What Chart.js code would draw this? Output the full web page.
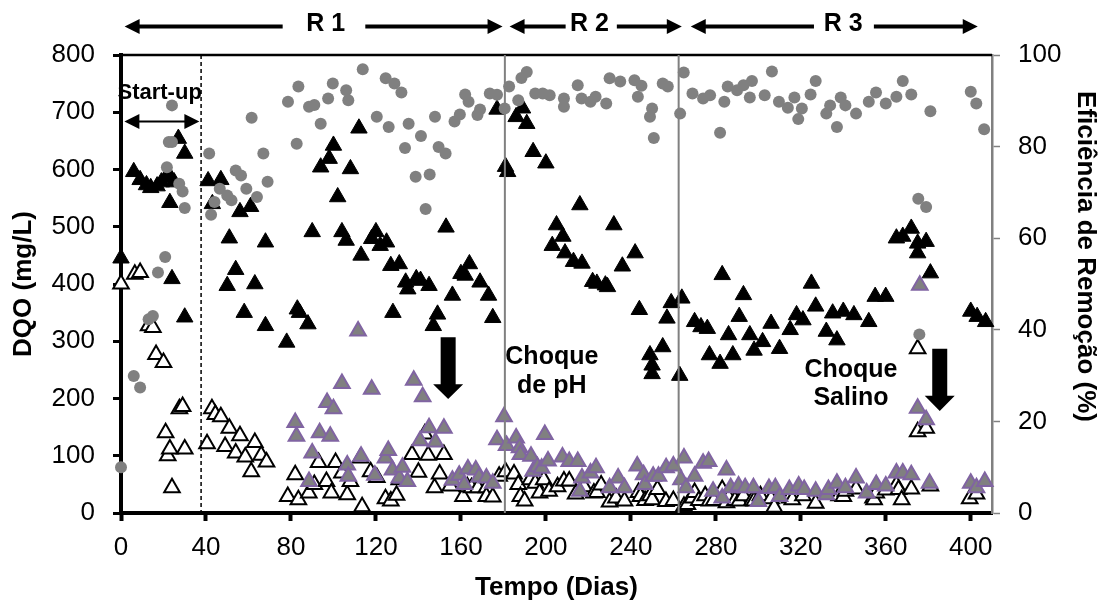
<!DOCTYPE html>
<html lang="pt">
<head>
<meta charset="UTF-8">
<title>DQO e Eficiência de Remoção</title>
<script src="https://cdn.jsdelivr.net/npm/chart.js"></script>
<style>
  html, body { margin: 0; padding: 0; background: #fff; overflow: hidden; }
  #wrap { width: 1101px; height: 600px; position: relative; }
</style>
</head>
<body>
<div id="wrap"><canvas id="grafico"></canvas></div>
<script>
// [dia, DQO mg/L] - afluente
const dqoAfluente = [
  [0,445],[6,596],[9,582],[12,573],[14,568],[17,571],[19,578],[21,585],[23,588],[25,578],[23,542],[24,409],[27,654],[30,628],[30,342],
  [41,580],[43,540],[47,582],[50,397],[51,480],[54,425],[56,526],[58,350],[61,535],[63,400],[68,473],[68,327],[78,298],[83,356],[84,350],[88,330],
  [90,491],[94,604],[98,619],[100,642],[102,552],[104,491],[106,476],[108,601],[112,672],[113,450],[118,479],[120,491],[122,467],[125,473],
  [127,432],[128,350],[131,435],[134,403],[135,391],[139,409],[141,406],[145,397],[147,327],[149,347],[153,499],[156,380],[160,418],[162,415],
  [164,435],[169,403],[173,380],[175,341],[177,705],
  [181,605],[182,596],[186,692],[189,707],[191,680],[194,631],[200,611],[203,467],[205,503],[208,483],[209,454],[213,439],[216,538],[217,436],
  [222,404],[224,401],[228,398],[229,395],[232,503],[236,431],[242,454],
  [244,355],[249,276],[250,258],[250,243],[255,290],[257,340],[259,367],[263,240],[264,375],
  [270,334],[273,325],[276,322],[277,276],[282,261],[283,416],[286,311],[288,276],[291,343],[293,381],[296,311],[298,284],[302,299],[306,331],
  [310,287],[315,320],[318,346],[321,337],[325,401],[327,361],[332,317],[335,349],[337,302],[340,352],[345,346],[352,334],[355,378],[360,378],
  [365,480],[368,483],[372,497],[375,471],[375,454],[379,474],[381,419],
  [400,352],[403,343],[407,334]
];

// [dia, DQO mg/L] - efluente
const dqoEfluente = [
  [0,400],[6.5,417],[9,420],[13,327],[15,324],[16.5,277],[20,263],[21,140],[22,100],[23,112],[24,44],[27.5,182],[29,186],[30,112],
  [40.5,121],[42.8,182],[44.4,172],[47,168],[49,116],[51,148],[54,105],[56,135],[58.5,98],[61.3,72],[63,123],[66,101],[68.5,89],
  [78.5,29],[82,67],[83.5,23],[88.4,35],[91,50],[93,88],[96.7,55],[99,35],[101,88],[104,70],[106.5,32],[108,55],[112.7,96],[113.5,11],
  [117.5,72],[120.4,62],[124.5,25],[127,21],[129.7,31],[131,58],[137,102],[140,71],[143,138],[144.6,101],[147.6,44],[150,68],[152,102],
  [155,47],[161,29],[163,46],[165,44],[168,44],[172,44],[172,29],[175,28],[178,64],
  [181,72],[185,68],[187,50],[188,29],[190,21],[192.6,58],[195,52],[197,35],[199,58],[201.5,38],
  [205.5,46],[208.5,56],[211,56],[214,33],[218,46],[222.6,35],[224,36],[226,49],[230,19],[233,26],[237,21],[243.6,36],[244.5,29],[246.7,22],
  [249,30],[250,23],[252.5,41],[256.5,20],[260,22],[265,12],[266.6,15],[269,26],[270,36],[272,22],[275,30],[277,21],[279,22],[283,41],
  [285,18],[286,27],[289,22],[291,21],[293,30],[297,22],[298,21],[301,30],[306,25],[307.5,10],
  [314.7,26],[316,23],[321,30],[327,17],[338,30],[340,29],[341,38],[346,42],[354,26],[354.5,23],[355.5,35],[360,40],[365,49],[366,41],
  [367.5,23],[372,42],[375,142],[375,287],[379,148],[381,47],[399.5,25],[402.7,33]
];

// [dia, DQO mg/L] - efluente (segunda série)
const dqoEfluente2 = [
  [82,158],[82.6,134],[88.5,55],[90,105],[93.5,140],[97,193],[98.5,134],[100,182],[104,226],[106.5,84],[107,64],[111.6,318],[113,99],
  [118,216],[119.5,66],[124.5,96],[125.8,109],[127.8,75],[131,61],[132.5,80],[134.8,55],[137.8,232],[140.8,126],[142,203],[145,149],
  [148,124],[152,148],[156,57],[159.2,66],[161.6,50],[163.3,77],[167,75],[168.5,63],[172,61],[175,52],[177,128],[180.3,168],[181.5,118],
  [186,131],[187.6,114],[188,102],[193,99],[194,73],[196,81],[198,78],[199.5,137],[201,91],
  [207.8,98],[211,90],[215,90],[216,38],[217,61],[221,70],[223.6,79],[230,44],[234,61],[237,44],[243,82],[246,67],[246.6,50],[250.5,64],
  [253,64],[256.6,79],[260,82],[263.6,58],[265,96],[266,44],[270,64],[274,87],[276.6,90],[278.7,38],[283,26],[285,75],[287,44],[290.7,47],
  [293.8,44],[297.7,44],[300,20],[305,43],[308,44],
  [310,29],[314.6,41],[319,47],[321.6,41],[327,38],[332,32],[333,41],[337,52],[341,44],[346,61],[351,35],[355.5,50],[360,47],[365,70],
  [368,70],[372,67],[375,183],[376,398],[379,163],[380.6,52],[400,52],[402.7,44],[406.6,55]
];

// [dia, %] - eficiência de remoção
const eficiencia = [
  [0,10],[6,29.9],[9,27.4],[13,42.3],[15,43],[17.4,52.5],[20.8,55.9],[21.6,75.5],[22.5,81],[24,81],[24,89],[27.4,71.9],[29,70.2],[30,66.6],
  [41.5,78.5],[42.4,65.1],[44,67.9],[46.5,70.8],[50,69.3],[52,68.3],[54,74.8],[56.5,73.7],[59,70.8],[61.5,86.3],[64,69],[67,78.5],[69,72.3],
  [78.6,89.8],[82.7,80.6],[83.5,93.1],[88.5,88.7],[91,89.1],[94,85],[97.5,90.5],[99.7,93.8],[106,92.3],[107,90.1],[113.8,96.9],[120.4,86.5],
  [124.6,94.9],[126,84.3],[128.7,93.8],[132,91.8],[133.7,79.7],[135.4,85],[138.7,73.4],[141.2,82.3],[143.4,66.4],[145.3,73.9],[147.8,86.5],
  [149.5,79.9],[152.8,78.5],[157,85.5],[159.5,87],[162,91.4],[163.6,89.8],[167.8,86.9],[169,88.1],[173.6,91.6],[177,91.3],[180.6,88.3],
  [182.7,93.1],[187,90.1],[188.5,95],[191,96.3],[195,91.6],[198.5,91.6],
  [201.8,91.2],[208.5,90.5],[208.5,88.7],[215,93.4],[216.8,90.5],[221,89.8],[223.4,90.9],[228.4,89.4],[230,94.9],[235,94.2],[241.7,94.5],
  [243.3,90.9],[245,93.3],[249,86.5],[250,88.3],[250.8,81.9],[255,93.8],[257.4,93.1],[263.2,87.2],[264.9,96.2],[269,91.6],[274,90.5],
  [277.3,91.2],[282,83],[284,89.8],[285.6,93.1],[290,92.3],[293,93.4],[296,90.7],[297,94.3],[303,91.2],[306.4,96.4],[309.7,89.8],
  [313.9,88.5],[317,90.7],[318.8,86],[320.5,88.3],[324.6,91.4],[327,94.3],[332,87.2],[333.8,89],[337,84.3],[338.8,90.7],[341,89],
  [346,87.2],[352,89.8],[355.4,91.8],[360,89.4],[365,90.9],[368,94.3],[372,91.4],[375.3,68.6],[375.8,39],[379,66.8],[381,87.7],
  [400,92],[402.6,89.4],[406.3,83.8]
];

const xTicks = [0, 40, 80, 120, 160, 200, 240, 280, 320, 360, 400];
const yTicks = [0, 100, 200, 300, 400, 500, 600, 700, 800];
const y2Ticks = [0, 20, 40, 60, 80, 100];

// fases de operação (dias)
const fimStartUp = 37.7;
const inicioFases = [180.7, 262.5];
const fases = [
  { nome: 'R 1', centro: 96.3, esq: [1.7, 76.1], dir: [115, 179.6] },
  { nome: 'R 2', centro: 220.5, esq: [182.9, 209.3], dir: [233.4, 264] },
  { nome: 'R 3', centro: 339.9, esq: [268.2, 326.2], dir: [354.4, 403.3] }
];
const choques = [
  { linhas: ['Choque', 'de pH'], dia: 202.8, dqo: [272, 222], seta: { dia: 154, topo: 307, base: 225, ponta: 199 } },
  { linhas: ['Choque', 'Salino'], dia: 343.6, dqo: [250, 200], seta: { dia: 385.4, topo: 287, base: 205, ponta: 178 } }
];

const pts = arr => arr.map(([x, y]) => ({ x, y }));
const fonte = 'Liberation Sans, Arial, sans-serif';
const tituloFonte = { family: fonte, size: 26, weight: 'bold' };
const tickFonte = { family: fonte, size: 26 };

function setaH(ctx, x1, x2, y, pontaEm) {
  const len = 15, half = 7.5;
  ctx.beginPath();
  if (pontaEm === 'esq') { ctx.moveTo(x1 + len - 1, y); ctx.lineTo(x2, y); }
  else if (pontaEm === 'dir') { ctx.moveTo(x1, y); ctx.lineTo(x2 - len + 1, y); }
  else { ctx.moveTo(x1 + len - 1, y); ctx.lineTo(x2 - len + 1, y); }
  ctx.stroke();
  if (pontaEm === 'esq' || pontaEm === 'ambas') {
    ctx.beginPath(); ctx.moveTo(x1, y); ctx.lineTo(x1 + len, y - half); ctx.lineTo(x1 + len, y + half); ctx.closePath(); ctx.fill();
  }
  if (pontaEm === 'dir' || pontaEm === 'ambas') {
    ctx.beginPath(); ctx.moveTo(x2, y); ctx.lineTo(x2 - len, y - half); ctx.lineTo(x2 - len, y + half); ctx.closePath(); ctx.fill();
  }
}

const anotacoes = {
  id: 'anotacoes',
  afterDatasetsDraw(chart) {
    const { ctx, chartArea: a, scales: { x, y, y2 } } = chart;
    ctx.save();

    // moldura superior
    ctx.strokeStyle = '#000';
    ctx.lineWidth = 2.5;
    ctx.beginPath(); ctx.moveTo(a.left, a.top); ctx.lineTo(a.right, a.top); ctx.stroke();

    // fim do start-up
    const xs = x.getPixelForValue(fimStartUp);
    ctx.lineWidth = 1.5;
    ctx.setLineDash([4, 3]);
    ctx.beginPath(); ctx.moveTo(xs, a.top); ctx.lineTo(xs, a.bottom); ctx.stroke();
    ctx.setLineDash([]);

    // divisões R1 / R2 / R3
    ctx.strokeStyle = '#808080';
    ctx.lineWidth = 2;
    inicioFases.forEach(d => {
      const px = x.getPixelForValue(d);
      ctx.beginPath(); ctx.moveTo(px, a.top); ctx.lineTo(px, a.bottom); ctx.stroke();
    });

    ctx.fillStyle = '#000';
    ctx.strokeStyle = '#000';
    ctx.textAlign = 'center';
    ctx.textBaseline = 'middle';

    // título do eixo direito
    ctx.save();
    ctx.translate(1085, y2.getPixelForValue(56));
    ctx.rotate(Math.PI / 2);
    ctx.font = 'bold 26px ' + fonte;
    ctx.fillText('Eficiência de Remoção (%)', 0, 0);
    ctx.restore();

    // fases no topo
    const yFase = y.getPixelForValue(850);
    ctx.lineWidth = 4;
    ctx.font = 'bold 25px ' + fonte;
    fases.forEach(f => {
      setaH(ctx, x.getPixelForValue(f.esq[0]), x.getPixelForValue(f.esq[1]), yFase, 'esq');
      setaH(ctx, x.getPixelForValue(f.dir[0]), x.getPixelForValue(f.dir[1]), yFase, 'dir');
      ctx.fillText(f.nome, x.getPixelForValue(f.centro), yFase - 2);
    });

    // start-up
    ctx.font = 'bold 22px ' + fonte;
    ctx.fillText('Start-up', x.getPixelForValue(18.2), y.getPixelForValue(734));
    ctx.lineWidth = 2;
    setaH(ctx, x.getPixelForValue(1.6), x.getPixelForValue(36.9), y.getPixelForValue(684), 'ambas');

    // choques
    ctx.font = 'bold 25px ' + fonte;
    choques.forEach(c => {
      c.linhas.forEach((t, i) => ctx.fillText(t, x.getPixelForValue(c.dia), y.getPixelForValue(c.dqo[i])));
      const sx = x.getPixelForValue(c.seta.dia);
      const top = y.getPixelForValue(c.seta.topo);
      const base = y.getPixelForValue(c.seta.base);
      const tip = y.getPixelForValue(c.seta.ponta);
      ctx.beginPath();
      ctx.moveTo(sx - 7.5, top); ctx.lineTo(sx + 7.5, top); ctx.lineTo(sx + 7.5, base);
      ctx.lineTo(sx + 15, base); ctx.lineTo(sx, tip); ctx.lineTo(sx - 15, base);
      ctx.lineTo(sx - 7.5, base); ctx.closePath(); ctx.fill();
    });

    ctx.restore();
  }
};

new Chart(document.getElementById('grafico'), {
  type: 'scatter',
  data: {
    datasets: [
      {
        label: 'Eficiência de Remoção (%)',
        data: pts(eficiencia),
        yAxisID: 'y2',
        pointStyle: 'circle',
        pointRadius: 6,
        backgroundColor: '#808080',
        borderColor: '#808080',
        borderWidth: 0,
        clip: false
      },
      {
        label: 'DQO efluente 2',
        data: pts(dqoEfluente2),
        yAxisID: 'y',
        pointStyle: 'triangle',
        pointRadius: 9,
        backgroundColor: '#808080',
        borderColor: '#8064a2',
        borderWidth: 2,
        clip: false
      },
      {
        label: 'DQO efluente',
        data: pts(dqoEfluente),
        yAxisID: 'y',
        pointStyle: 'triangle',
        pointRadius: 9,
        backgroundColor: '#ffffff',
        borderColor: '#000000',
        borderWidth: 2,
        clip: false
      },
      {
        label: 'DQO afluente',
        data: pts(dqoAfluente),
        yAxisID: 'y',
        pointStyle: 'triangle',
        pointRadius: 9.5,
        backgroundColor: '#000000',
        borderColor: '#000000',
        borderWidth: 1,
        clip: false
      }
    ]
  },
  options: {
    responsive: true,
    maintainAspectRatio: false,
    animation: false,
    devicePixelRatio: 1,
    layout: { padding: { top: 55, left: 0, right: 0, bottom: 0 } },
    plugins: {
      legend: { display: false },
      tooltip: { enabled: false }
    },
    scales: {
      x: {
        type: 'linear',
        min: 0,
        max: 410,
        afterBuildTicks: s => { s.ticks = xTicks.map(v => ({ value: v })); },
        afterFit: s => { s.height = 87; },
        border: { color: '#000', width: 4 },
        grid: { drawOnChartArea: false, drawTicks: true, tickLength: 8, tickColor: '#000', tickWidth: 4 },
        ticks: { font: tickFonte, color: '#000', padding: 11, maxRotation: 0 },
        title: { display: true, text: 'Tempo (Dias)', color: '#000', font: tituloFonte, padding: { top: 0, bottom: -3 } }
      },
      y: {
        position: 'left',
        min: 0,
        max: 800,
        afterBuildTicks: s => { s.ticks = yTicks.map(v => ({ value: v })); },
        afterFit: s => { s.width = 121; },
        border: { color: '#000', width: 4 },
        grid: { drawOnChartArea: false, drawTicks: true, tickLength: 8, tickColor: '#000', tickWidth: 3 },
        ticks: { font: tickFonte, color: '#000', padding: 18 },
        title: { display: true, text: 'DQO (mg/L)', color: '#000', font: tituloFonte, padding: { top: 8, bottom: 0 } }
      },
      y2: {
        position: 'right',
        min: 0,
        max: 100,
        afterBuildTicks: s => { s.ticks = y2Ticks.map(v => ({ value: v })); },
        afterFit: s => { s.width = 109; },
        border: { color: '#808080', width: 2.5 },
        grid: { drawOnChartArea: false, drawTicks: true, tickLength: 8, tickColor: '#808080', tickWidth: 1.5 },
        ticks: { font: tickFonte, color: '#000', padding: 18 },
        title: { display: false, text: 'Eficiência de Remoção (%)' }
      }
    }
  },
  plugins: [anotacoes]
});
</script>
</body>
</html>
